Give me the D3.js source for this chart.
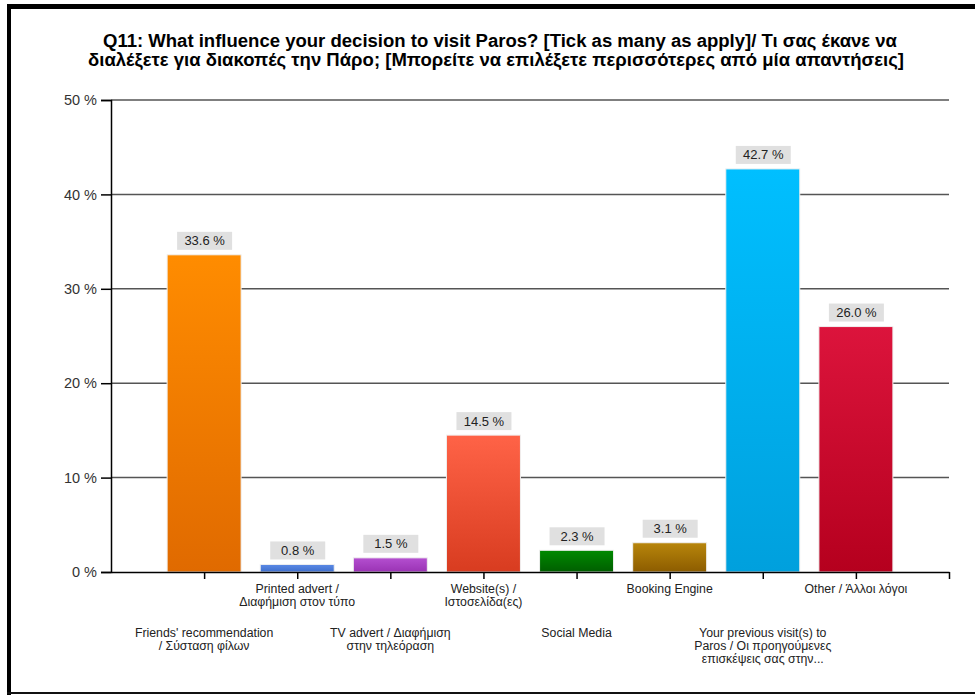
<!DOCTYPE html>
<html><head><meta charset="utf-8">
<script src="https://cdn.jsdelivr.net/npm/d3@7"></script>
<style>body{margin:0;background:#fff}svg{display:block}</style>
</head><body>
<svg id="c" width="975" height="695"></svg>
<script>
const titleLines = ["Q11: What influence your decision to visit Paros? [Tick as many as apply]/ Τι σας έκανε να",
  "διαλέξετε για διακοπές την Πάρο; [Μπορείτε να επιλέξετε περισσότερες από μία απαντήσεις]"];
const categories = [
  ["Friends' recommendation", "/ Σύσταση φίλων"],
  ["Printed advert /", "Διαφήμιση στον τύπο"],
  ["TV advert / Διαφήμιση", "στην τηλεόραση"],
  ["Website(s) /", "Ιστοσελίδα(ες)"],
  ["Social Media"],
  ["Booking Engine"],
  ["Your previous visit(s) to", "Paros / Οι προηγούμενες", "επισκέψεις σας στην..."],
  ["Other / Άλλοι λόγοι"]
];
const values = [33.6, 0.8, 1.5, 14.5, 2.3, 3.1, 42.7, 26.0];
const colorsTop = ["#ff8c00", "#5b8ae6", "#b44fd0", "#ff6347", "#008a00", "#b8860b", "#00bfff", "#dc143c"];
const colorsBottom = ["#e06a00", "#3f6fcc", "#9a33b4", "#d83c20", "#005e00", "#8c5c00", "#00a0dd", "#b5001e"];
const yTicks = [0, 10, 20, 30, 40, 50];

const svg = d3.select("#c");
// frame
svg.append("rect").attr("x", 7).attr("y", 4).attr("width", 975).attr("height", 5).attr("fill", "#000");
svg.append("rect").attr("x", 7).attr("y", 4).attr("width", 4).attr("height", 691).attr("fill", "#000");
svg.append("rect").attr("x", 7).attr("y", 692).attr("width", 975).attr("height", 2).attr("fill", "#111");

const font = "Arial, 'Liberation Sans', sans-serif";
const titleSpan = [[103, 897], [88, 904]];
svg.append("g").selectAll("text").data(titleLines).join("text")
  .attr("x", (d, i) => titleSpan[i][0]).attr("y", (d, i) => 47 + i * 19)
  .attr("textLength", (d, i) => titleSpan[i][1] - titleSpan[i][0])
  .attr("lengthAdjust", "spacingAndGlyphs")
  .attr("font-family", font)
  .attr("font-weight", "bold").attr("font-size", 17.5).attr("fill", "#000").text(d => d);

const x0 = 111, x1 = 949, yTop = 100, yBot = 572;
const x = d3.scaleLinear().domain([0, 9]).range([x0, x1]);
const y = d3.scaleLinear().domain([0, 50]).range([yBot, yTop]);

// gridlines
svg.append("g").selectAll("line").data(yTicks.filter(t => t > 0)).join("line")
  .attr("x1", x0).attr("x2", x1).attr("y1", d => y(d)).attr("y2", d => y(d))
  .attr("stroke", "#555").attr("stroke-width", 1.5);

// y axis
const ya = svg.append("g").attr("transform", `translate(${x0},0)`)
  .call(d3.axisLeft(y).tickValues(yTicks).tickFormat(d => d + " %").tickSize(10).tickPadding(4));
ya.select(".domain").attr("stroke", "#000").attr("stroke-width", 1.5);
ya.selectAll(".tick line").attr("stroke", "#000").attr("stroke-width", 1.5);
ya.selectAll("text").attr("font-family", font).attr("font-size", 14.5).attr("fill", "#333");

// gradients
const defs = svg.append("defs");
values.forEach((v, i) => {
  const g = defs.append("linearGradient").attr("id", "g" + i).attr("x1", 0).attr("x2", 0).attr("y1", 0).attr("y2", 1);
  g.append("stop").attr("offset", "0%").attr("stop-color", colorsTop[i]);
  g.append("stop").attr("offset", "100%").attr("stop-color", colorsBottom[i]);
});

const bw = 74;
svg.append("g").selectAll("rect").data(values).join("rect")
  .attr("x", (d, i) => x(i + 1) - bw / 2).attr("width", bw)
  .attr("y", d => y(d)).attr("height", d => yBot - y(d))
  .attr("fill", (d, i) => `url(#g${i})`).attr("stroke", "#f0f0f0").attr("stroke-width", 1);

// x axis
const xa = svg.append("g").attr("transform", `translate(0,${yBot})`)
  .call(d3.axisBottom(x).tickValues(d3.range(1, 10)).tickFormat("").tickSize(7).tickSizeOuter(0));
xa.select(".domain").attr("stroke", "#000").attr("stroke-width", 1.5);
xa.selectAll(".tick line").attr("stroke", "#000").attr("stroke-width", 1.5);

// value labels
const lab = svg.append("g").selectAll("g").data(values).join("g")
  .attr("transform", (d, i) => `translate(${x(i + 1)},${y(d) - 5})`);
lab.append("rect").attr("x", -27).attr("y", -18).attr("width", 55).attr("height", 18).attr("fill", "#e0e0e0");
lab.append("text").attr("x", 0.5).attr("y", -4.5).attr("text-anchor", "middle").attr("font-family", font)
  .attr("font-size", 13).attr("fill", "#222").text(d => d.toFixed(1) + " %");

// category labels
const cl = svg.append("g").selectAll("g").data(categories).join("g")
  .attr("transform", (d, i) => `translate(${x(i + 1)},${i % 2 === 0 ? 637 : 593})`);
cl.selectAll("text").data(d => d).join("text")
  .attr("y", (d, j) => j * 13).attr("text-anchor", "middle").attr("font-family", font)
  .attr("font-size", 12.3).attr("fill", "#222").text(d => d);
</script>
</body></html>
